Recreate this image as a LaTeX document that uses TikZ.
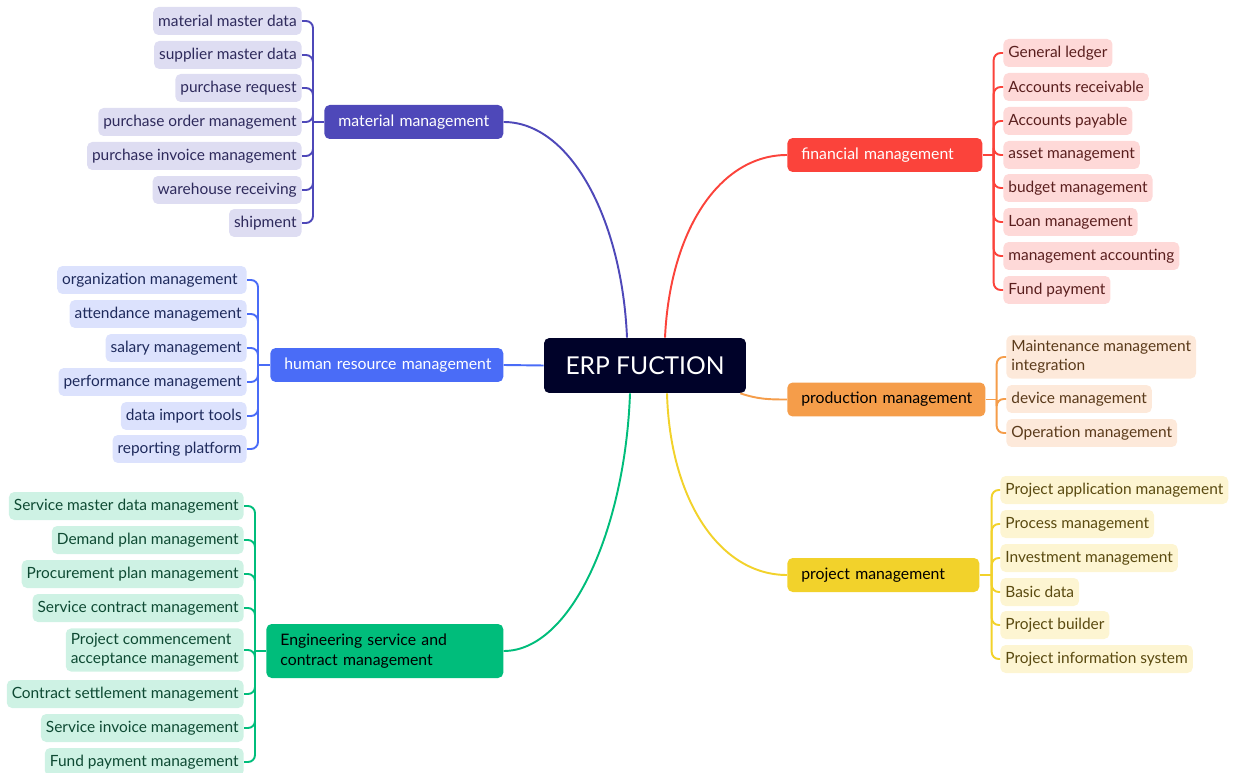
\documentclass[tikz,border=0pt]{standalone}
\usepackage{fontspec}
\setmainfont{Lato}
\usetikzlibrary{positioning}

\definecolor{rootfill}{HTML}{000229}
\definecolor{matcol}{HTML}{4E48B9}
\definecolor{matlight}{HTML}{DEDDF2}
\definecolor{matdark}{HTML}{2E2A5C}
\definecolor{fincol}{HTML}{FB433B}
\definecolor{finlight}{HTML}{FED9D8}
\definecolor{findark}{HTML}{5A1F1E}
\definecolor{hrcol}{HTML}{4A6CF7}
\definecolor{hrlight}{HTML}{DCE2FD}
\definecolor{hrdark}{HTML}{1E2A5C}
\definecolor{prodcol}{HTML}{F59D4A}
\definecolor{prodlight}{HTML}{FDE9DA}
\definecolor{proddark}{HTML}{5A3A1A}
\definecolor{projcol}{HTML}{F2D22B}
\definecolor{projlight}{HTML}{FDF5D2}
\definecolor{projdark}{HTML}{5A4A10}
\definecolor{engcol}{HTML}{00BD7B}
\definecolor{englight}{HTML}{CEF2E4}
\definecolor{engdark}{HTML}{0E4A33}

\begin{document}
\begin{tikzpicture}[
        x=0.02cm, y=-0.02cm, % one unit = one pixel of the layout
        every node/.style={rounded corners=3pt},
        leaf/.style={
            align=left, inner xsep=0.1cm, inner ysep=0.1cm,
            minimum height=0.56cm,
            font=\fontsize{8.8}{10.8}\selectfont
        },
        topic/.style={
            anchor=west, align=left, inner xsep=0.28cm,
            minimum height=0.68cm,
            font=\fontsize{9}{11}\selectfont
        },
        branch/.style={line width=1.1pt, rounded corners=4pt},
        mat_leaf/.style={leaf, fill=matlight, text=matdark, anchor=east},
        hr_leaf/.style={leaf, fill=hrlight, text=hrdark, anchor=east},
        eng_leaf/.style={leaf, fill=englight, text=engdark, anchor=east},
        fin_leaf/.style={leaf, fill=finlight, text=findark, anchor=west},
        prod_leaf/.style={leaf, fill=prodlight, text=proddark, anchor=west},
        proj_leaf/.style={leaf, fill=projlight, text=projdark, anchor=west}
      ]
        \useasboundingbox (0,0) rectangle (1233,773);

        % centre
        \node[fill=rootfill, text=white, minimum width=4.04cm, minimum height=1.1cm,
              font=\fontsize{14}{16}\selectfont] (root) at (645,365.5) {ERP FUCTION};

        % main topics
        \node[topic, fill=matcol, text=white, text width=3.02cm] (mat) at (324,122) {\mbox{material management}};
        \node[topic, fill=fincol, text=white, text width=3.34cm] (fin) at (787,155) {\mbox{financial management}};
        \node[topic, fill=hrcol, text=white, text width=4.1cm] (hr) at (270,365) {\mbox{human resource management}};
        \node[topic, fill=prodcol, text=black, text width=3.4cm] (prod) at (787,399.5) {\mbox{production management}};
        \node[topic, fill=projcol, text=black, text width=3.28cm] (proj) at (787,575) {\mbox{project management}};
        \node[topic, fill=engcol, text=black, text width=4.18cm, minimum height=1.08cm] (eng) at (266,651)
            {Engineering service and\\contract management};

        % curves from the centre
        \draw[branch, matcol] ([xshift=-0.36cm]root.north) .. controls +(-5,-118) and +(67,0) .. (mat.east);
        \draw[branch, fincol] ([xshift=0.4cm]root.north) .. controls +(5,-108) and +(-67,0) .. (fin.west);
        \draw[branch, hrcol] (root.west) -- (hr.east);
        \draw[branch, prodcol] ([xshift=-0.12cm]root.south east) .. controls +(18,6) and +(-18,0) .. (prod.west);
        \draw[branch, projcol] ([xshift=0.44cm]root.south) .. controls +(3,107) and +(-67,0) .. (proj.west);
        \draw[branch, engcol] ([xshift=-0.3cm]root.south) .. controls +(-5,137) and +(67,0) .. (eng.east);

        % stubs into the brackets
        \draw[branch, matcol] (mat.west) -- ++(-11,0) coordinate (mat_hub);
        \draw[branch, hrcol] (hr.west) -- ++(-12,0) coordinate (hr_hub);
        \draw[branch, engcol] (eng.west) -- ++(-11,0) coordinate (eng_hub);
        \draw[branch, fincol] (fin.east) -- ++(11,0) coordinate (fin_hub);
        \draw[branch, prodcol] (prod.east) -- ++(11,0) coordinate (prod_hub);
        \draw[branch, projcol] (proj.east) -- ++(12,0) coordinate (proj_hub);

        % material management
        \foreach \y/\t [count=\i] in {21/material master data, 55/supplier master data,
            88/purchase request, 122/purchase order management,
            156/purchase invoice management, 190/warehouse receiving, 223/shipment}
          {
            \node[mat_leaf] (m_\i) at (302,\y) {\t};
            \draw[branch, matcol] (mat_hub) |- (m_\i.east);
          }

        % human resource management
        \foreach \y/\t [count=\i] in {280/organization management\ , 314/attendance management,
            348/salary management, 382/performance management,
            416/data import tools, 449/reporting platform}
          {
            \node[hr_leaf] (h_\i) at (247,\y) {\t};
            \draw[branch, hrcol] (hr_hub) |- (h_\i.east);
          }

        % engineering service and contract management
        \foreach \y/\t [count=\i] in {506/Service master data management, 540/Demand plan management,
            574/Procurement plan management, 608/Service contract management,
            650/{Project commencement\\acceptance management},
            694/Contract settlement management, 728/Service invoice management,
            762/Fund payment management}
          {
            \node[eng_leaf] (e_\i) at (244,\y) {\t};
            \draw[branch, engcol] (eng_hub) |- (e_\i.east);
          }

        % financial management
        \foreach \y/\t [count=\i] in {53/General ledger, 87/Accounts receivable,
            121/Accounts payable, 155/asset management, 188/budget management,
            222/Loan management, 256/management accounting, 290/Fund payment}
          {
            \node[fin_leaf] (f_\i) at (1003,\y) {\t};
            \draw[branch, fincol] (fin_hub) |- (f_\i.west);
          }

        % production management
        \foreach \y/\t [count=\i] in {357/{Maintenance management\\integration},
            399/device management, 433/Operation management}
          {
            \node[prod_leaf] (p_\i) at (1006,\y) {\t};
            \draw[branch, prodcol] (prod_hub) |- (p_\i.west);
          }

        % project management
        \foreach \y/\t [count=\i] in {490/Project application management, 524/Process management,
            558/Investment management, 592/Basic data, 625/Project builder,
            659/Project information system}
          {
            \node[proj_leaf] (j_\i) at (1000,\y) {\t};
            \draw[branch, projcol] (proj_hub) |- (j_\i.west);
          }
      \end{tikzpicture}
\end{document}
